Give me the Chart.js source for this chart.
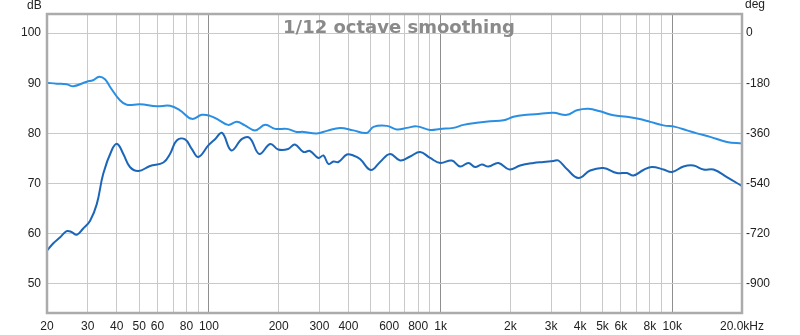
<!DOCTYPE html>
<html>
<head>
<meta charset="utf-8">
<script src="https://cdn.jsdelivr.net/npm/chart.js@4/dist/chart.umd.min.js"></script>
<style>
  html, body { margin: 0; padding: 0; background: #fff; }
  #wrap { width: 800px; height: 335px; }
</style>
</head>
<body>
<div id="wrap"><canvas id="spl"></canvas></div>
<script>
// upper trace (light blue)
const upperHz = [20, 22, 24.3, 26, 29.7, 31.6, 33.6, 35.6, 37.4, 41.3, 44.2, 50.4, 59.5, 67.9, 75, 84.3, 93.1, 101, 110, 121, 132, 143, 158, 175, 193, 217, 239, 256, 292, 323, 368, 420, 480, 513, 586, 647, 715, 789, 901, 996, 1136, 1255, 1433, 1636, 1868, 2063, 2356, 2690, 3070, 3508, 3874, 4348, 4882, 5575, 6368, 7146, 8029, 9165, 10300, 11570, 12780, 14580, 17210, 20000];
const upperDb = [90.1, 89.9, 89.8, 89.4, 90.3, 90.6, 91.3, 90.8, 89.3, 86.6, 85.7, 85.8, 85.4, 85.5, 84.6, 82.9, 83.7, 83.5, 82.7, 81.7, 82.3, 81.6, 80.6, 81.7, 80.9, 80.9, 80.3, 80.3, 80.0, 80.5, 81.1, 80.6, 80.1, 81.3, 81.5, 80.8, 81.1, 81.4, 80.7, 80.9, 81.1, 81.7, 82.1, 82.4, 82.6, 83.3, 83.7, 83.9, 84.1, 83.7, 84.6, 84.9, 84.4, 83.6, 83.3, 82.9, 82.3, 81.6, 81.3, 80.6, 80.0, 79.3, 78.3, 78.0];

// lower trace (dark blue)
const lowerHz = [20, 21.3, 22.8, 24.3, 25.4, 26.9, 28.6, 30.7, 32.8, 35, 38.1, 40.2, 42.7, 45.6, 49.6, 55.7, 63.6, 67.9, 72.6, 78.9, 84.3, 90, 99.4, 106, 114, 125, 139, 150, 165, 184, 199, 220, 235, 256, 273, 297, 312, 328, 345, 362, 394, 420, 449, 500, 548, 605, 669, 739, 816, 901, 996, 1118, 1214, 1319, 1409, 1507, 1609, 1777, 1982, 2204, 2516, 2780, 3070, 3226, 3508, 3936, 4422, 5047, 5766, 6368, 6802, 7510, 8166, 9165, 9964, 11180, 12350, 13640, 15070, 17210, 20000];
const lowerDb = [56.6, 58.1, 59.3, 60.5, 60.4, 59.8, 61.0, 62.6, 65.9, 72.0, 76.7, 77.9, 75.9, 73.3, 72.5, 73.5, 74.2, 75.9, 78.6, 78.8, 76.9, 75.3, 77.6, 78.8, 80.1, 76.6, 78.9, 79.1, 75.9, 77.9, 76.8, 76.9, 77.8, 76.3, 76.5, 75.1, 75.6, 73.9, 74.4, 74.3, 75.8, 75.6, 74.9, 72.7, 74.3, 75.9, 74.6, 75.4, 76.3, 75.1, 74.1, 74.6, 73.4, 74.1, 73.3, 73.8, 73.4, 74.1, 72.8, 73.6, 74.1, 74.3, 74.5, 74.6, 72.9, 71.1, 72.6, 73.1, 72.1, 72.1, 71.6, 72.7, 73.3, 72.8, 72.3, 73.4, 73.6, 72.8, 72.8, 71.3, 69.5];

// axes
const freqTicks = [20, 30, 40, 50, 60, 70, 80, 90, 100, 200, 300, 400, 500, 600, 700, 800, 900, 1000, 2000, 3000, 4000, 5000, 6000, 7000, 8000, 9000, 10000, 20000];
const freqLabels = {20: "20", 30: "30", 40: "40", 50: "50", 60: "60", 80: "80", 100: "100", 200: "200", 300: "300", 400: "400", 600: "600", 800: "800", 1000: "1k", 2000: "2k", 3000: "3k", 4000: "4k", 5000: "5k", 6000: "6k", 8000: "8k", 10000: "10k", 20000: "20.0kHz"};
const decadeHz = [100, 1000, 10000];
const dbTicks = [50, 60, 70, 80, 90, 100];
const degTicks = [0, -180, -360, -540, -720, -900];

const FONT = "'Liberation Sans', Arial, sans-serif";

// frame, smoothing note and unit labels
const decor = {
  id: "decor",
  afterDraw(chart) {
    const { ctx, chartArea: a } = chart;
    ctx.save();
    ctx.strokeStyle = "#ababab";
    ctx.lineWidth = 2.5;
    ctx.strokeRect(a.left, a.top, a.right - a.left, a.bottom - a.top);

    ctx.fillStyle = "#8a8a8a";
    ctx.font = "bold 18px 'DejaVu Sans', sans-serif";
    ctx.textAlign = "center";
    ctx.textBaseline = "alphabetic";
    ctx.fillText("1/12 octave smoothing", 399, 33);

    ctx.fillStyle = "#222";
    ctx.font = "12px " + FONT;
    ctx.textAlign = "left";
    ctx.textBaseline = "middle";
    ctx.fillText("dB", 27, 6);
    ctx.fillText("deg", 745, 5);
    ctx.restore();
  }
};

new Chart(document.getElementById("spl"), {
  type: "line",
  data: {
    datasets: [
      {
        data: upperHz.map((f, i) => ({ x: f, y: upperDb[i] })),
        borderColor: "#2a8fe2",
        borderWidth: 2,
        pointRadius: 0,
        tension: 0.4,
        yAxisID: "y"
      },
      {
        data: lowerHz.map((f, i) => ({ x: f, y: lowerDb[i] })),
        borderColor: "#1b66b8",
        borderWidth: 2,
        pointRadius: 0,
        tension: 0.4,
        yAxisID: "y"
      }
    ]
  },
  options: {
    responsive: true,
    maintainAspectRatio: false,
    animation: false,
    layout: { padding: { top: 14, left: 0, right: 0, bottom: 0 } },
    plugins: { legend: { display: false }, tooltip: { enabled: false } },
    scales: {
      x: {
        type: "logarithmic",
        min: 20,
        max: 20000,
        afterBuildTicks: s => { s.ticks = freqTicks.map(v => ({ value: v })); },
        afterFit: s => { s.height = 22; },
        border: { display: false },
        grid: {
          drawTicks: false,
          color: c => (c.tick && decadeHz.includes(c.tick.value)) ? "#8e8e8e" : "#c9c9c9",
          lineWidth: 1
        },
        ticks: {
          autoSkip: false,
          maxRotation: 0,
          padding: 6,
          color: "#222",
          font: { family: FONT, size: 12 },
          callback: v => freqLabels[v] || ""
        }
      },
      y: {
        position: "left",
        min: 44.2,
        max: 103.8,
        afterBuildTicks: s => { s.ticks = dbTicks.map(v => ({ value: v })); },
        afterFit: s => { s.width = 47; },
        border: { display: false },
        grid: { drawTicks: false, color: "#c9c9c9" },
        ticks: {
          padding: 6,
          color: "#222",
          font: { family: FONT, size: 12 }
        }
      },
      y1: {
        position: "right",
        min: -1004.4,
        max: 68.4,
        afterBuildTicks: s => { s.ticks = degTicks.map(v => ({ value: v })); },
        afterFit: s => { s.width = 58; },
        border: { display: false },
        grid: { drawOnChartArea: false, drawTicks: false },
        ticks: {
          padding: 4,
          color: "#222",
          font: { family: FONT, size: 12 }
        }
      }
    }
  },
  plugins: [decor]
});
</script>
</body>
</html>
